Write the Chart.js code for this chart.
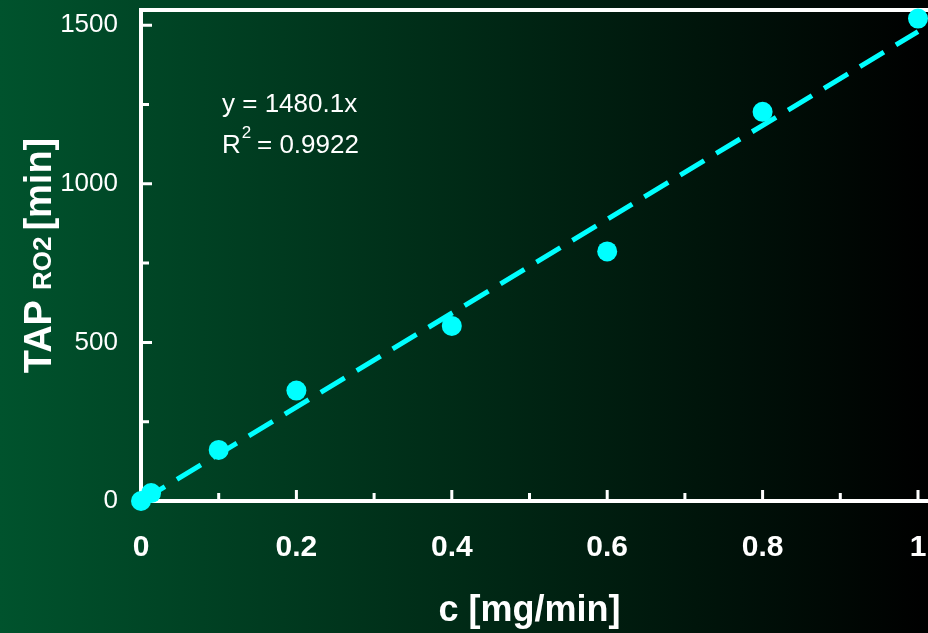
<!DOCTYPE html>
<html>
<head>
<meta charset="utf-8">
<script src="https://cdn.jsdelivr.net/npm/chart.js@4"></script>
<style>
  html, body { margin: 0; padding: 0; }
  body {
    width: 928px; height: 633px; overflow: hidden;
    background: linear-gradient(to right, #00532d 0%, #002a16 50%, #000000 100%);
  }
  canvas { display: block; }
</style>
</head>
<body>
<canvas id="chart" width="928" height="633"></canvas>
<script>
// datos medidos
const concValues = [0, 0.013, 0.1, 0.2, 0.4, 0.6, 0.8, 1.0];
const tapValues = [0, 25, 161, 348, 552, 787, 1227, 1521];

// ajuste lineal
const slope = 1480.1;
const rSquared = 0.9922;

// ejes
const xTickValues = [0, 0.2, 0.4, 0.6, 0.8, 1];
const xMinorValues = [0.1, 0.3, 0.5, 0.7, 0.9];
const yTickValues = [0, 500, 1000, 1500];
const yMinorValues = [250, 750, 1250];

const CYAN = '#00ffff';
const WHITE = '#ffffff';
const FONT = '"Liberation Sans", Arial, sans-serif';

// quitar el relleno automatico de las etiquetas en los extremos
function fixScale(scale, size) {
    if (scale.isHorizontal()) scale.height = size;
    else scale.width = size;
    scale.paddingTop = 0;
    scale.paddingBottom = 0;
    scale.paddingLeft = 0;
    scale.paddingRight = 0;
}

// Plugin para ejes, marcas y textos
const decorPlugin = {
    id: 'decor',
    beforeDatasetsDraw(chart) {
        const ctx = chart.ctx;
        const area = chart.chartArea;
        const xs = chart.scales.x;
        const ys = chart.scales.y;
        const W = chart.width;

        ctx.save();
        ctx.strokeStyle = WHITE;
        ctx.lineWidth = 4;
        ctx.beginPath();
        ctx.moveTo(area.left, area.top);
        ctx.lineTo(W, area.top);
        ctx.moveTo(area.left, area.top - 2);
        ctx.lineTo(area.left, area.bottom + 2);
        ctx.moveTo(area.left - 2, area.bottom);
        ctx.lineTo(W, area.bottom);
        ctx.stroke();

        ctx.lineWidth = 3;
        ctx.beginPath();
        yTickValues.forEach(v => {
            const y = ys.getPixelForValue(v);
            ctx.moveTo(area.left, y);
            ctx.lineTo(area.left + 11, y);
        });
        yMinorValues.forEach(v => {
            const y = ys.getPixelForValue(v);
            ctx.moveTo(area.left, y);
            ctx.lineTo(area.left + 8, y);
        });
        xTickValues.forEach(v => {
            const x = xs.getPixelForValue(v);
            ctx.moveTo(x, area.bottom);
            ctx.lineTo(x, area.bottom - 11);
        });
        xMinorValues.forEach(v => {
            const x = xs.getPixelForValue(v);
            ctx.moveTo(x, area.bottom);
            ctx.lineTo(x, area.bottom - 8);
        });
        ctx.stroke();
        ctx.restore();
    },
    afterDraw(chart) {
        const ctx = chart.ctx;
        const area = chart.chartArea;

        ctx.save();
        ctx.fillStyle = WHITE;

        // titulo eje x
        ctx.font = 'bold 36px ' + FONT;
        ctx.textAlign = 'center';
        ctx.textBaseline = 'alphabetic';
        ctx.fillText('c [mg/min]', (area.left + area.right) / 2, 621);

        // titulo eje y con subindice
        const bigFont = 'bold 38px ' + FONT;
        const subFont = 'bold 26px ' + FONT;
        ctx.font = bigFont;
        const wTap = ctx.measureText('TAP').width;
        const wMin = ctx.measureText('[min]').width;
        ctx.font = subFont;
        const wSub = ctx.measureText('RO2').width;
        const total = wTap + 10 + wSub + 6 + wMin;
        ctx.save();
        ctx.translate(51, (area.top + area.bottom) / 2);
        ctx.rotate(-Math.PI / 2);
        ctx.textAlign = 'left';
        let pos = -total / 2;
        ctx.font = bigFont;
        ctx.fillText('TAP', pos, 0);
        pos += wTap + 10;
        ctx.font = subFont;
        ctx.fillText('RO2', pos, 0);
        pos += wSub + 6;
        ctx.font = bigFont;
        ctx.fillText('[min]', pos, 0);
        ctx.restore();

        // ecuacion
        ctx.textAlign = 'left';
        ctx.font = '26px ' + FONT;
        ctx.fillText('y = ' + slope.toFixed(1) + 'x', 222, 112);
        ctx.fillText('R', 222, 153);
        const wR = ctx.measureText('R').width;
        ctx.font = '17px ' + FONT;
        ctx.fillText('2', 222 + wR + 1, 138);
        ctx.font = '26px ' + FONT;
        ctx.fillText(' = ' + rSquared.toFixed(4), 222 + wR + 9, 153);
        ctx.restore();
    }
};

const ctx = document.getElementById('chart').getContext('2d');

new Chart(ctx, {
    data: {
        datasets: [{
            type: 'scatter',
            label: 'TAP',
            data: concValues.map((c, i) => ({ x: c, y: tapValues[i] })),
            backgroundColor: CYAN,
            borderWidth: 0,
            pointRadius: 10,
            pointHoverRadius: 10,
            clip: false,
            order: 1
        }, {
            type: 'line',
            label: 'Ajuste',
            data: [{ x: 0, y: 0 }, { x: 1, y: slope }],
            borderColor: CYAN,
            borderWidth: 5,
            borderDash: [28, 14],
            pointRadius: 0,
            fill: false,
            clip: false,
            order: 2
        }]
    },
    options: {
        responsive: false,
        animation: false,
        layout: { padding: { top: 10, right: 8, left: 0, bottom: 0 } },
        plugins: {
            legend: { display: false },
            tooltip: { enabled: false }
        },
        scales: {
            x: {
                type: 'linear',
                position: 'bottom',
                min: 0,
                max: 1,
                grid: { display: false, drawTicks: false },
                border: { display: false },
                afterBuildTicks: scale => { scale.ticks = xTickValues.map(v => ({ value: v })); },
                afterFit: scale => fixScale(scale, 132),
                ticks: {
                    color: WHITE,
                    padding: 29,
                    maxRotation: 0,
                    autoSkip: false,
                    font: { family: FONT, size: 30, weight: 'bold' },
                    callback: v => String(v)
                }
            },
            y: {
                type: 'linear',
                min: 0,
                max: 1548,
                grid: { display: false, drawTicks: false },
                border: { display: false },
                afterBuildTicks: scale => { scale.ticks = yTickValues.map(v => ({ value: v })); },
                afterFit: scale => fixScale(scale, 141),
                ticks: {
                    color: WHITE,
                    padding: 23,
                    autoSkip: false,
                    font: { family: FONT, size: 26 },
                    callback: v => String(v)
                }
            }
        }
    },
    plugins: [decorPlugin]
});
</script>
</body>
</html>
